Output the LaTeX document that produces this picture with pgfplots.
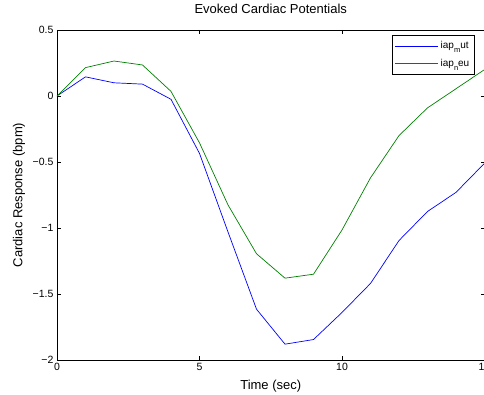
\documentclass[border=0pt]{standalone}
\usepackage{fontspec}
\setmainfont{Liberation Sans}
\usepackage{pgfplots}
\pgfplotsset{compat=1.18}
\definecolor{mblue}{rgb}{0,0,1}
\definecolor{mgreen}{rgb}{0,0.5,0}
\newcommand{\legsub}[1]{{\fontsize{7.5}{9}\selectfont\lower3.5pt\hbox{#1}}}
\begin{document}
\begin{tikzpicture}
\begin{axis}[
  name=ax, at={(0pt,0pt)}, anchor=south west,
  scale only axis, width=427.5pt, height=330pt,
  xmin=0, xmax=15, ymin=-2, ymax=0.5,
  xtick={0,5,10,15},
  ytick={-2,-1.5,-1,-0.5,0,0.5},
  yticklabels={−2,−1.5,−1,−0.5,0,0.5},
  /pgf/number format/assume math mode=true,
  tick align=inside, major tick length=4pt,
  axis line style={line width=0.8pt},
  tick style={black, line width=0.8pt},
  ticklabel style={font=\fontsize{10.5}{12}\selectfont},
  title={Evoked Cardiac Potentials},
  title style={font=\fontsize{13}{15}\selectfont, at={(axis description cs:0.5,1.0455)}, anchor=center},
  xlabel={Time (sec)},
  xlabel style={font=\fontsize{13}{15}\selectfont, at={(axis description cs:0.5,-0.0788)}, anchor=center},
  ylabel={Cardiac Response (bpm)},
  ylabel style={font=\fontsize{13}{15}\selectfont, at={(axis description cs:-0.0889,0.5)}, anchor=center},
  legend style={at={(axis description cs:1,1)}, anchor=north east, xshift=-10pt, yshift=-5pt,
    draw=black, font=\fontsize{10}{12}\selectfont, inner xsep=3pt, inner ysep=4.5pt,
    row sep=5pt},
  legend cell align=left,
  legend image code/.code={\draw[#1] (0pt,0pt) -- (43pt,0pt);},
]
\addplot[mblue, line width=0.7pt] coordinates {
(0,0)(1,0.145)(2,0.10)(3,0.09)(4,-0.025)(5,-0.435)(6,-1.03)(7,-1.615)(8,-1.88)(9,-1.845)(10,-1.64)(11,-1.42)(12,-1.095)(13,-0.875)(14,-0.73)(15,-0.51)};
\addlegendentry{iap\legsub{m}ut}
\addplot[mgreen, line width=0.7pt] coordinates {
(0,0)(1,0.215)(2,0.265)(3,0.235)(4,0.035)(5,-0.355)(6,-0.825)(7,-1.195)(8,-1.38)(9,-1.35)(10,-1.015)(11,-0.62)(12,-0.30)(13,-0.09)(14,0.055)(15,0.2)};
\addlegendentry{iap\legsub{n}eu}
\end{axis}
\pgfresetboundingbox
\path[use as bounding box] ([shift={(-57pt,-34pt)}]ax.south west) rectangle ([shift={(427pt,360pt)}]ax.south west);
\end{tikzpicture}
\end{document}
